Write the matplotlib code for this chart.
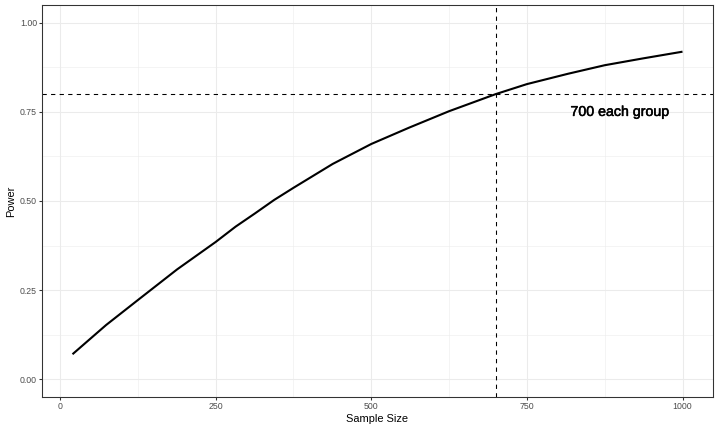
import matplotlib
matplotlib.use("Agg")
import matplotlib.pyplot as plt
import matplotlib.patheffects as pe
from matplotlib.ticker import MultipleLocator

sample_size = [20, 45, 74, 125, 188, 250, 282, 313, 344, 375, 438, 500, 561, 625, 700, 750, 816, 875, 936, 1000]
power = [0.070, 0.108, 0.152, 0.222, 0.308, 0.385, 0.428, 0.465, 0.503, 0.537, 0.604, 0.660, 0.706, 0.752,
         0.800, 0.828, 0.857, 0.881, 0.900, 0.919]
target_power = 0.80
target_n = 700
label_text = "700 each group"
label_x, label_y = 900, 0.75
x_ticks = [0, 250, 500, 750, 1000]
y_ticks = [0.00, 0.25, 0.50, 0.75, 1.00]
y_tick_labels = ["0.00", "0.25", "0.50", "0.75", "1.00"]

plt.rcParams['font.family'] = ['Liberation Sans', 'DejaVu Sans']

fig = plt.figure(figsize=(10, 6), dpi=72)
ax = fig.add_axes([42/720, 1-397/432, (713-42)/720, (397-5)/432])

ax.set_xlim(-29, 1049)
ax.set_ylim(-0.05, 1.05)

ax.xaxis.set_minor_locator(MultipleLocator(125))
ax.yaxis.set_minor_locator(MultipleLocator(0.125))
ax.set_xticks(x_ticks)
ax.set_xticklabels([str(v) for v in x_ticks])
ax.set_yticks(y_ticks)
ax.set_yticklabels(y_tick_labels)

ax.grid(which='major', color='#EBEBEB', linewidth=1.07)
ax.grid(which='minor', color='#EBEBEB', linewidth=0.53)
ax.set_axisbelow(True)

for s in ax.spines.values():
    s.set_color('#333333')
    s.set_linewidth(1.07)

ax.tick_params(axis='both', which='major', length=2.75, width=1.07, color='#333333',
               labelcolor='#4D4D4D', labelsize=8.8, pad=2.2)
ax.tick_params(axis='both', which='minor', length=0)

ax.plot(sample_size, power, color='black', linewidth=2.1, solid_capstyle='butt',
        solid_joinstyle='round', zorder=3)
ax.axhline(target_power, color='black', linestyle=(0, (4, 4)), linewidth=1.07, zorder=2)
ax.axvline(target_n, color='black', linestyle=(0, (4, 4)), linewidth=1.07, zorder=2)

ax.text(label_x, label_y, label_text, fontsize=14.2, ha='center', va='center', color='black',
        path_effects=[pe.withStroke(linewidth=0.5, foreground='black')])

ax.set_xlabel("Sample Size", fontsize=11, labelpad=3)
ax.set_ylabel("Power", fontsize=11, labelpad=4)

fig.savefig("out.png", dpi=72)
